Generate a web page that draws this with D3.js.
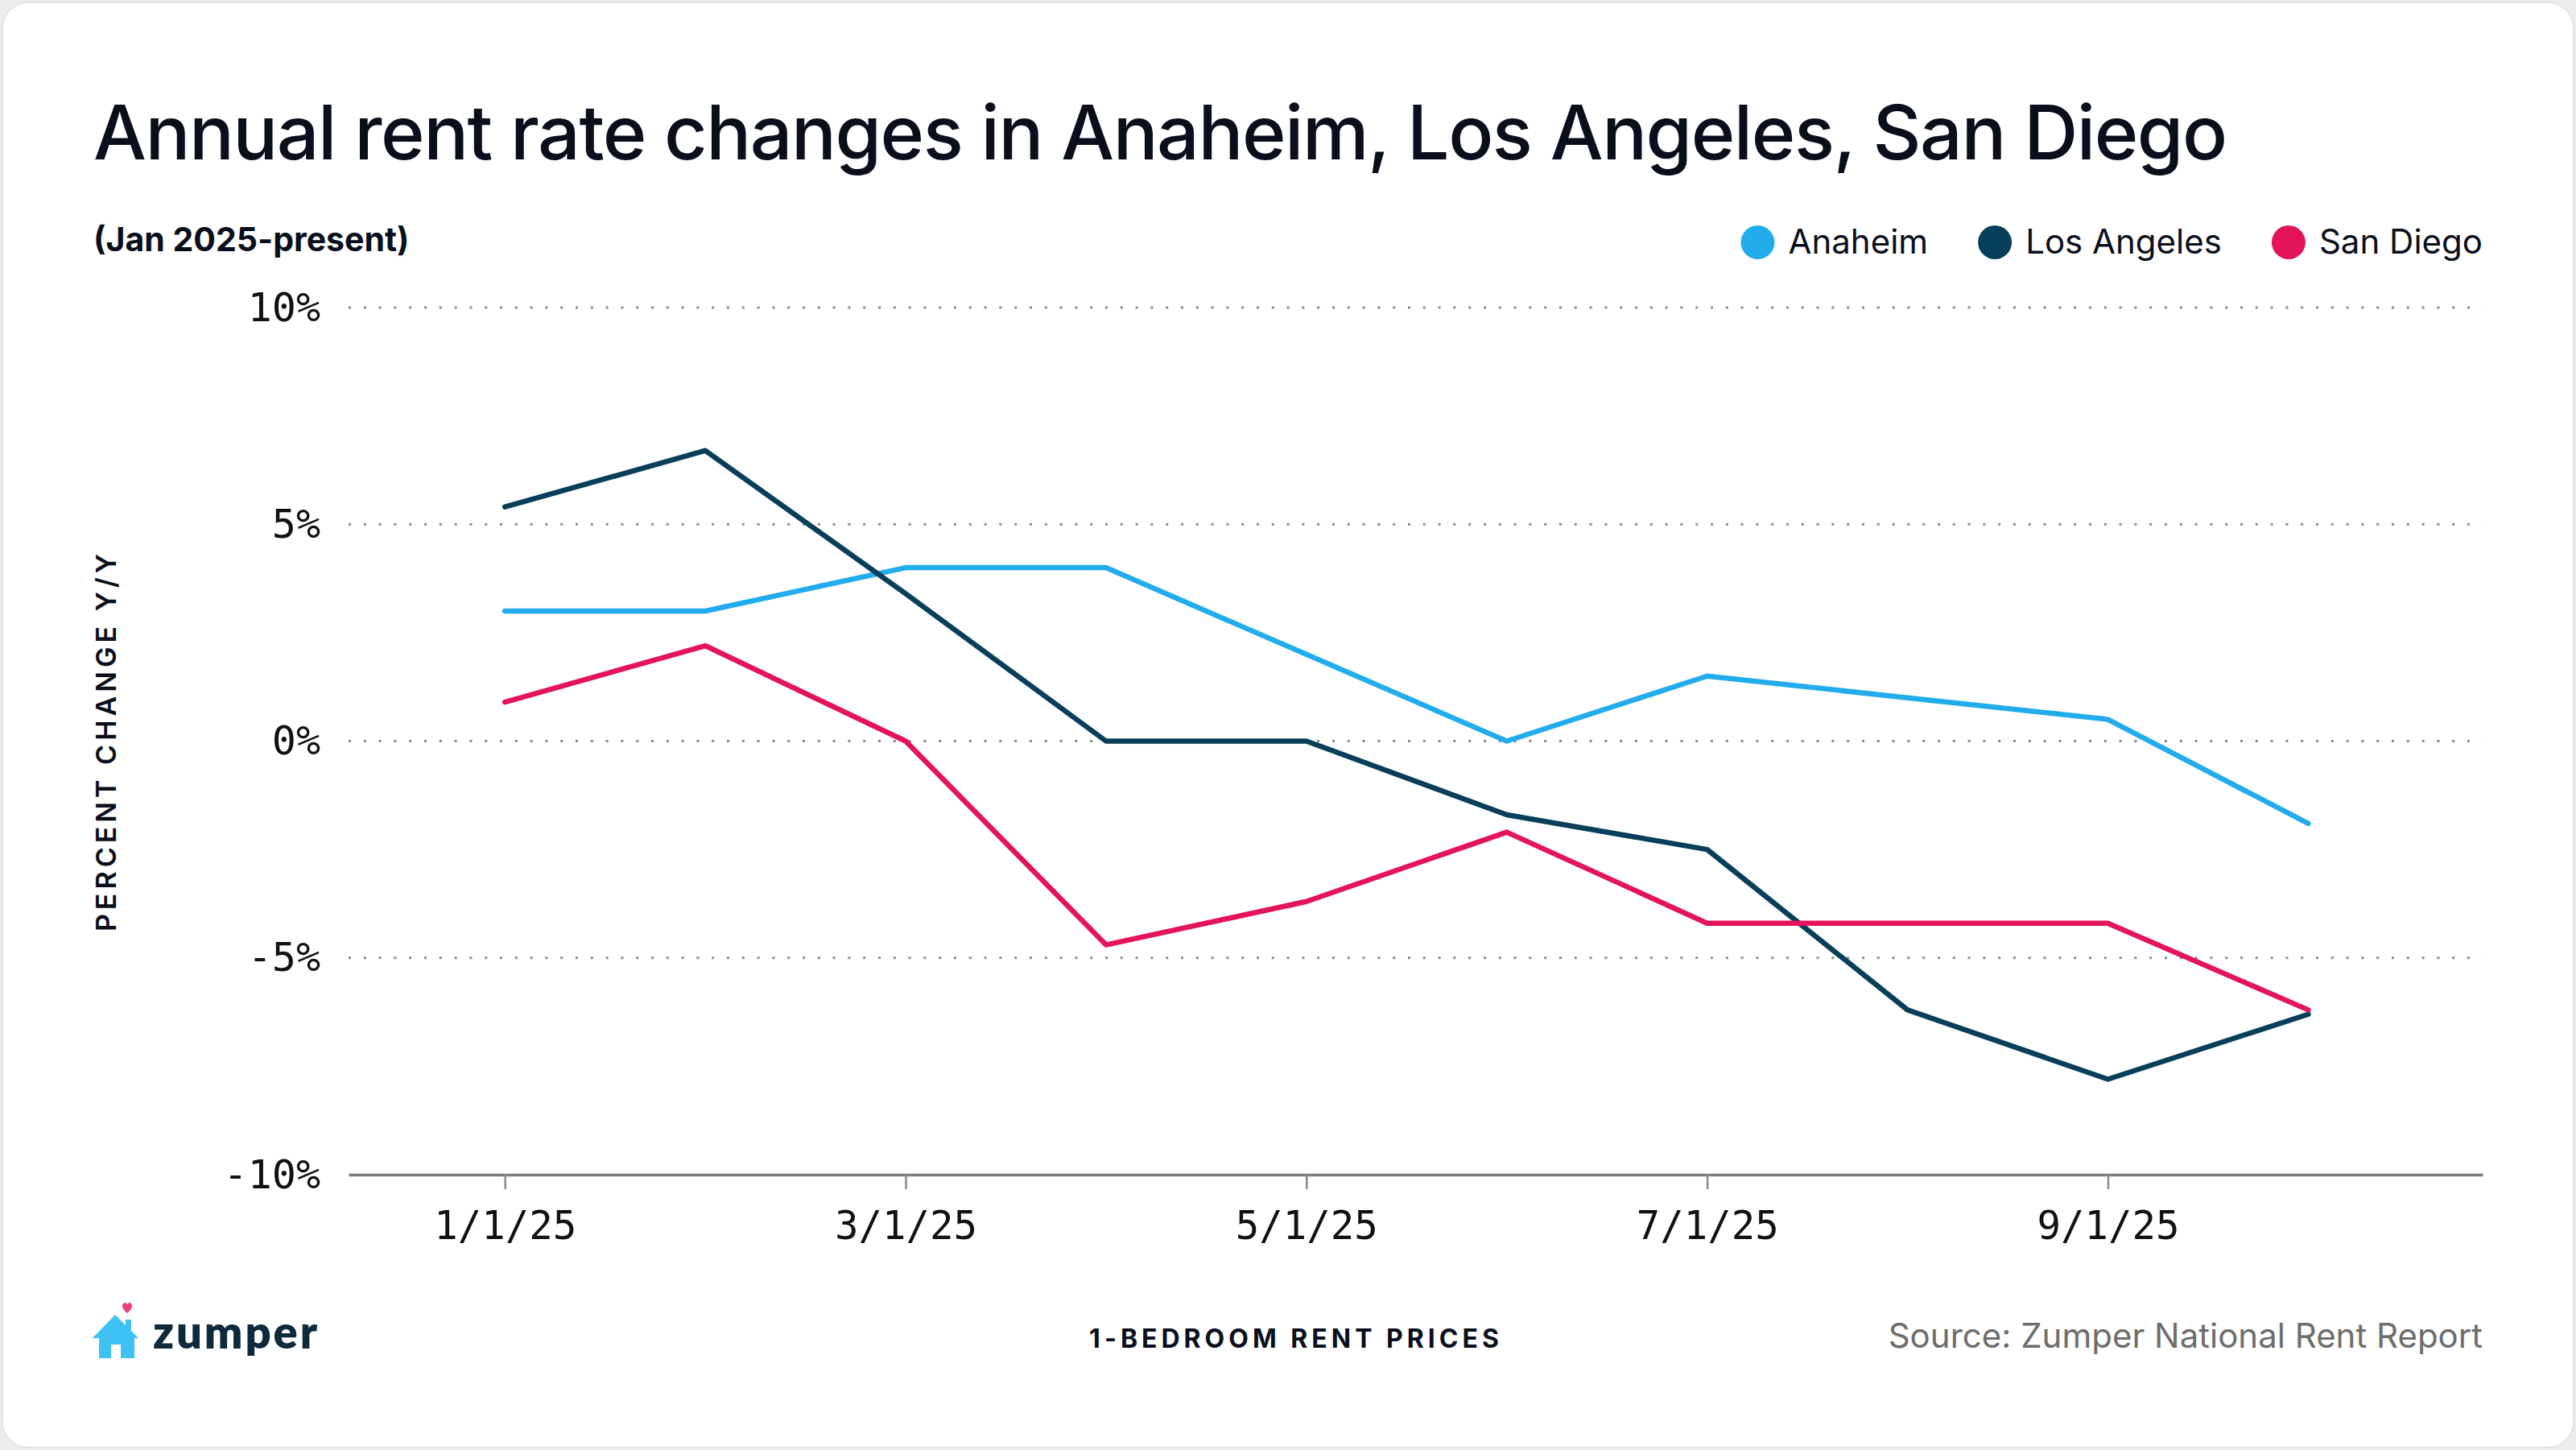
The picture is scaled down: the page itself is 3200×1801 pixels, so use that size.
<!DOCTYPE html>
<html>
<head>
<meta charset="utf-8">
<script src="https://cdn.jsdelivr.net/npm/d3@7"></script>
<style>
  body { margin: 0; background: #ececec; }
  svg { display: block; }
</style>
</head>
<body>
<div id="chart"></div>
<script>

// Chart data
const months = ["1/1/25", "2/1/25", "3/1/25", "4/1/25", "5/1/25", "6/1/25", "7/1/25", "8/1/25", "9/1/25", "10/1/25"];
const tickMonths = [0, 2, 4, 6, 8];
const yTicks = [-10, -5, 0, 5, 10];
const anaheim = [3.0, 3.0, 4.0, 4.0, 2.0, 0.0, 1.5, 1.0, 0.5, -1.9];
const losAngeles = [5.4, 6.7, 3.4, 0.0, 0.0, -1.7, -2.5, -6.2, -7.8, -6.3];
const sanDiego = [0.9, 2.2, 0.0, -4.7, -3.7, -2.1, -4.2, -4.2, -4.2, -6.2];
const seriesNames = ["Anaheim", "Los Angeles", "San Diego"];
const seriesColors = ["#22acec", "#073f5a", "#e3135c"];

const width = 3200;
const height = 1801;
const plot = {left: 433, right: 3084, top: 382, bottom: 1459};

const svg = d3.select("#chart")
  .append("svg")
  .attr("width", width)
  .attr("height", height)
  .attr("viewBox", [0, 0, width, height]);

// card
svg.append("rect")
  .attr("x", 3).attr("y", 3)
  .attr("width", width - 6).attr("height", height - 6)
  .attr("rx", 32)
  .attr("fill", "#fff")
  .attr("stroke", "#e2e2e2")
  .attr("stroke-width", 2);

// scales
const x = d3.scaleLinear()
  .domain([-0.78, 9.87])
  .range([plot.left, plot.right]);

const y = d3.scaleLinear()
  .domain([-10, 10])
  .range([plot.bottom, plot.top]);

const mono = "'DejaVu Sans Mono', 'Liberation Mono', monospace";
const sans = "Inter, 'Open Sans', sans-serif";

// dotted gridlines
svg.append("g")
  .selectAll("line")
  .data(yTicks.filter(d => d > -10))
  .enter()
  .append("line")
    .attr("x1", plot.left)
    .attr("x2", plot.right)
    .attr("y1", d => y(d))
    .attr("y2", d => y(d))
    .attr("stroke", "#8a8a8a")
    .attr("stroke-width", 3)
    .attr("stroke-dasharray", "3 15.8");

// y axis labels
const yAxis = svg.append("g")
  .attr("transform", `translate(${plot.left}, 0)`)
  .call(d3.axisLeft(y).tickValues(yTicks).tickSize(0).tickPadding(35).tickFormat(d => d + "%"));
yAxis.select(".domain").remove();
yAxis.selectAll("text")
  .attr("font-family", mono)
  .attr("font-size", 50)
  .attr("fill", "#111");

// x axis
const xAxis = svg.append("g")
  .attr("transform", `translate(0, ${plot.bottom})`)
  .call(d3.axisBottom(x).tickValues(tickMonths).tickSizeInner(18).tickSizeOuter(0)
    .tickPadding(27).tickFormat(i => months[i]));
xAxis.select(".domain")
  .attr("stroke", "#7c7c7c")
  .attr("stroke-width", 3.5);
xAxis.selectAll(".tick line")
  .attr("stroke", "#8a8a8a")
  .attr("stroke-width", 2.5);
xAxis.selectAll("text")
  .attr("font-family", mono)
  .attr("font-size", 49)
  .attr("fill", "#111");

// lines
const line = d3.line()
  .x((d, i) => x(i))
  .y(d => y(d));

svg.selectAll(".series")
  .data([anaheim, losAngeles, sanDiego])
  .enter()
  .append("path")
    .attr("class", "series")
    .attr("d", line)
    .attr("fill", "none")
    .attr("stroke", (d, i) => seriesColors[i])
    .attr("stroke-width", 6.5)
    .attr("stroke-linejoin", "round")
    .attr("stroke-linecap", "round");

// title + subtitle
svg.append("text")
  .attr("x", 116).attr("y", 198)
  .attr("font-family", sans)
  .attr("font-weight", 500)
  .attr("font-size", 93)
  .attr("letter-spacing", -1.5)
  .attr("fill", "#0b0f1c")
  .text("Annual rent rate changes in Anaheim, Los Angeles, San Diego");

svg.append("text")
  .attr("x", 116).attr("y", 312)
  .attr("font-family", sans)
  .attr("font-weight", 700)
  .attr("font-size", 41)
  .attr("fill", "#0b0f1c")
  .text("(Jan 2025-present)");

// legend, right aligned
const legend = svg.append("g");
let lx = plot.right;
for (let i = seriesNames.length - 1; i >= 0; i--) {
  const t = legend.append("text")
    .attr("y", 315)
    .attr("font-family", sans)
    .attr("font-size", 42)
    .attr("fill", "#0b0f1c")
    .text(seriesNames[i]);
  const w = t.node().getComputedTextLength();
  t.attr("x", lx - w);
  legend.append("circle")
    .attr("cx", lx - w - 38)
    .attr("cy", 301)
    .attr("r", 21)
    .attr("fill", seriesColors[i]);
  lx = lx - w - 38 - 21 - 62;
}

// axis titles
svg.append("text")
  .attr("transform", "translate(144, 920) rotate(-90)")
  .attr("text-anchor", "middle")
  .attr("font-family", sans)
  .attr("font-weight", 600)
  .attr("font-size", 34)
  .attr("letter-spacing", 5)
  .attr("fill", "#0b0f1c")
  .text("PERCENT CHANGE Y/Y");

svg.append("text")
  .attr("x", 1610).attr("y", 1674)
  .attr("text-anchor", "middle")
  .attr("font-family", sans)
  .attr("font-weight", 700)
  .attr("font-size", 32)
  .attr("letter-spacing", 5)
  .attr("fill", "#0b0f1c")
  .text("1-BEDROOM RENT PRICES");

svg.append("text")
  .attr("x", plot.right).attr("y", 1674)
  .attr("text-anchor", "end")
  .attr("font-family", sans)
  .attr("font-size", 42)
  .attr("fill", "#6d6d6d")
  .text("Source: Zumper National Rent Report");

// zumper logo
const logo = svg.append("g");
logo.append("path")
  .attr("d", "M143,1633 L172,1662 L167,1662 L167,1687 L150,1687 L150,1670 L138,1670 L138,1687 L123,1687 L123,1662 L115,1662 Z M156,1646 L156,1639 L163,1639 L163,1653 Z")
  .attr("fill", "#3ec1f3");
logo.append("path")
  .attr("d", "M158,1631 C150,1625 151,1619 155,1618 C157,1618 158,1620 158,1620 C158,1620 159,1618 161,1618 C165,1619 166,1625 158,1631 Z")
  .attr("fill", "#e8437a");
logo.append("text")
  .attr("x", 190).attr("y", 1675)
  .attr("font-family", "Lato, 'Open Sans', sans-serif")
  .attr("font-weight", 800)
  .attr("font-size", 56)
  .attr("textLength", 204)
  .attr("fill", "#0e2a3b")
  .text("zumper");

</script>
</body>
</html>
